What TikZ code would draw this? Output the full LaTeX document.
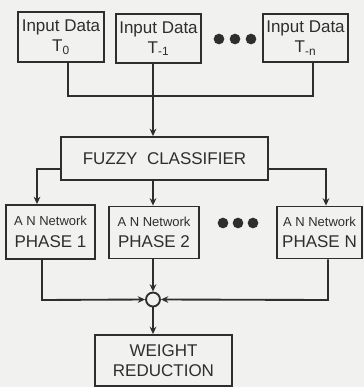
\documentclass[tikz,border=0pt]{standalone}
\usepackage{fontspec}
\setmainfont{Liberation Sans}
\usetikzlibrary{arrows.meta}
\definecolor{inkgray}{HTML}{2E2E2E}
\definecolor{paper}{HTML}{F1F1EF}
\tikzset{
  blk/.style={draw=inkgray, line width=1.4pt, inner sep=0pt, align=center, text=inkgray, font=\fontsize{12.75}{15}\selectfont},
  sumnode/.style={circle, draw=inkgray, line width=1.4pt, inner sep=0pt, minimum size=10.5pt},
  dotnode/.style={circle, fill=inkgray, inner sep=0pt, minimum size=8pt},
  wire/.style={draw=inkgray, line width=1.4pt},
  arr/.style={wire, -{Stealth[length=5.5pt,width=5pt]}},
}
\newcommand{\netfont}{\fontsize{9.75}{11}\selectfont}
\newcommand{\phfont}{\fontsize{12.75}{15}\selectfont}

\begin{document}
\begin{tikzpicture}[x=0.75pt,y=-0.75pt]
  \fill[paper] (0,0) rectangle (364,387);
  \useasboundingbox (0,0) rectangle (364,387);
  % inputs
  \node[blk, minimum width=64.5pt, minimum height=37.5pt] (in0) at (61,37) {Input Data\\T\textsubscript{0}};
  \node[blk, minimum width=63.75pt, minimum height=36.75pt] (in1) at (158.5,38.5) {Input Data\\T\textsubscript{-1}};
  \node[blk, minimum width=63.75pt, minimum height=36pt] (in3) at (305.5,38) {Input Data\\T\textsubscript{-n}};
  \node[dotnode] (td1) at (219,39) {};
  \node[dotnode] (td2) at (235,39) {};
  \node[dotnode] (td3) at (251,39) {};
  % classifier
  \node[blk, minimum width=155.25pt, minimum height=32.25pt] (fz) at (164.5,158.5) {FUZZY\ \ CLASSIFIER};
  % networks
  \node[blk, minimum width=66.75pt, minimum height=40.5pt] (ph1) at (50.5,232) {{\netfont A N Network}\\[1pt]{\phfont PHASE 1}};
  \node[blk, minimum width=67.5pt, minimum height=39pt] (ph2) at (154,232.5) {{\netfont A N Network}\\[1pt]{\phfont PHASE 2}};
  \node[blk, minimum width=63.75pt, minimum height=39pt] (phN) at (319.5,232.5) {{\netfont A N Network}\\[1pt]{\phfont PHASE N}};
  \node[dotnode] (bd1) at (223,223) {};
  \node[dotnode] (bd2) at (238,223) {};
  \node[dotnode] (bd3) at (253,223) {};
  % sum and output
  \node[sumnode] (sum) at (153,299.5) {};
  \node[blk, minimum width=102.75pt, minimum height=38.25pt] (wr) at (163.5,360.5) {WEIGHT\\REDUCTION};
  % joins
  \coordinate (spine) at (153,96);
  \coordinate (j0) at (68,96);
  \coordinate (j3) at (313,96);
  \coordinate (fl) at (37,169);
  \coordinate (fr) at (326,169);
  \coordinate (bl) at (42,300);
  \coordinate (br) at (328,300);
  \draw[wire] (in0.south -| j0) -- (j0) -- (j3) -- (in3.south -| j3);
  \draw[arr] (in1.south -| spine) -- (fz.north -| spine);
  \draw[arr] (fz.west |- fl) -- (fl) -- (ph1.north -| fl);
  \draw[arr] (fz.south -| spine) -- (ph2.north -| spine);
  \draw[arr] (fz.east |- fr) -- (fr) -- (phN.north -| fr);
  \draw[arr] (ph1.south -| bl) -- (bl) -- (sum.west);
  \draw[arr] (ph2.south -| sum) -- (sum.north);
  \draw[arr] (phN.south -| br) -- (br) -- (sum.east);
  \draw[arr] (sum.south) -- (wr.north -| sum);
\end{tikzpicture}
\end{document}
